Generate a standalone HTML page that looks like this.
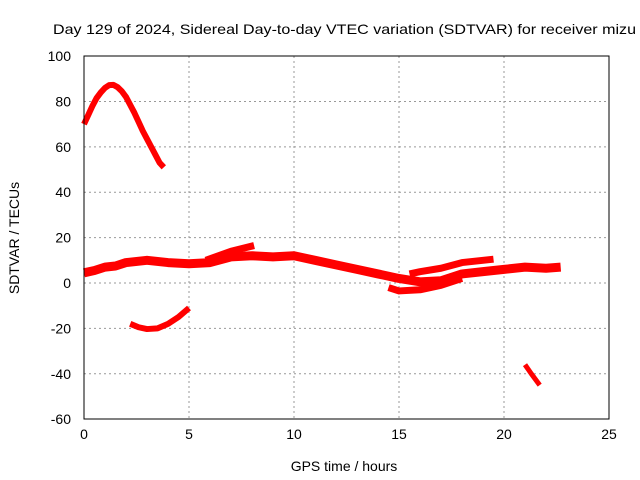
<!DOCTYPE html>
<html><head><meta charset="utf-8"><style>
body{margin:0;background:#fff}
svg{display:block;font-family:"Liberation Sans",sans-serif}
</style></head><body>
<svg id="chart" width="640" height="480">
<text x="53" y="34" font-size="14" textLength="583" lengthAdjust="spacingAndGlyphs">Day 129 of 2024, Sidereal Day-to-day VTEC variation (SDTVAR) for receiver mizu</text>
<text x="344" y="471" font-size="14" text-anchor="middle">GPS time / hours</text>
<text x="19" y="238" font-size="14" text-anchor="middle" transform="rotate(-90 19 238)">SDTVAR / TECUs</text>
<g id="grid"></g><g id="series"></g>
<rect x="84" y="56" width="525" height="363" fill="none" stroke="#000" stroke-width="1"/>
</svg>
<script>
const xTicks=[0,5,10,15,20,25];
const yTicks=[-60,-40,-20,0,20,40,60,80,100];
const segArch=[[0,70],[0.2,74],[0.4,78],[0.6,81.5],[0.8,84],[1.0,86],[1.2,87.2],[1.4,87.3],[1.6,86.3],[1.8,84.5],[2.0,82],[2.2,78.5],[2.4,75],[2.6,71],[2.8,67],[3.0,63.5],[3.2,60],[3.4,56.5],[3.6,53],[3.8,51]];
const segNeg=[[2.2,-18],[2.6,-19.5],[3.0,-20.3],[3.5,-20],[4.0,-18],[4.5,-15],[5.0,-11]];
const segMain=[[0,4.5],[0.5,5.5],[1,7],[1.5,7.5],[2,9],[3,10],[4,9],[5,8.5],[6,9],[7,11.5],[8,12],[9,11.5],[10,12],[11,10],[12,8],[13,6],[14,4],[15,2],[16,0.5],[17,1],[18,4],[19,5],[20,6],[21,7],[22,6.5],[22.7,7]];
const segHigh=[[5.8,10],[7,14],[8.1,16.5]];
const segDip=[[14.5,-2],[15,-3.5],[16,-3],[17,-1],[18,2]];
const segUpper=[[15.5,4],[16,5],[17,6.5],[18,9],[19,10],[19.5,10.5]];
const segEnd=[[21,-36],[21.3,-40],[21.7,-45]];
const segments=[segArch,segNeg,segMain,segHigh,segDip,segUpper,segEnd];
const widths=[6,6,9,7,7,7,5];
const X=h=>84+h*21, Y=v=>283-v*2.269;
const NS="http://www.w3.org/2000/svg";
const svg=document.getElementById('chart'),grid=document.getElementById('grid'),ser=document.getElementById('series');
function mk(t,a,p){const e=document.createElementNS(NS,t);for(const k in a)e.setAttribute(k,a[k]);(p||svg).appendChild(e);return e;}
xTicks.forEach(t=>{
 if(t>0&&t<25){const l=mk('line',{x1:X(t),x2:X(t),y1:56,y2:419,stroke:'#999','stroke-dasharray':'2,3'},grid);
 
 }
 const tx=mk('text',{x:X(t),y:439,'font-size':14,'text-anchor':'middle'});tx.textContent=t;
 
 
});
yTicks.forEach(t=>{
 if(t>-60&&t<100){const l=mk('line',{x1:84,x2:609,y1:Y(t),y2:Y(t),stroke:'#999','stroke-dasharray':'2,3'},grid);
 
 }
 const tx=mk('text',{x:71,y:Y(t)+5,'font-size':14,'text-anchor':'end'});tx.textContent=t;
 
 
});
segments.forEach((s,i)=>{
 const p=mk('polyline',{points:s.map(d=>X(d[0])+','+Y(d[1])).join(' '),fill:'none',stroke:'#f00','stroke-width':widths[i],'stroke-linejoin':'round'},ser);
 
 
});
</script>
</body></html>
